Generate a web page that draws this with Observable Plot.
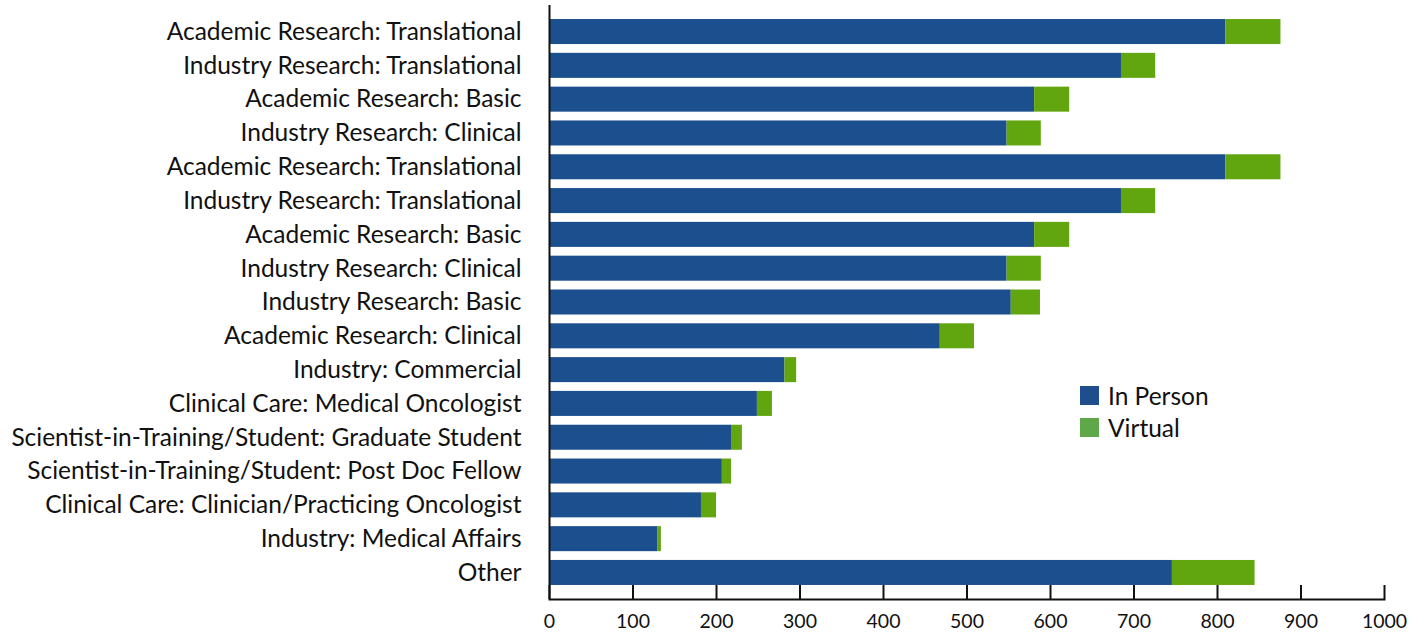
<!DOCTYPE html>
<html><head><meta charset="utf-8">
<script src="https://cdn.jsdelivr.net/npm/d3@7"></script>
<script src="https://cdn.jsdelivr.net/npm/@observablehq/plot@0.6"></script>
<style>
body{margin:0;background:#fff;}
#wrap{position:relative;width:1418px;height:632px;font-family:Lato,sans-serif;}
#wrap svg{display:block;}
#legend{position:absolute;left:1080px;top:379px;font-family:Lato,sans-serif;font-size:24.5px;color:#111;}
#legend .item{display:flex;align-items:center;height:32px;}
#legend .sw{width:19px;height:19px;margin-right:9px;}
</style></head><body>
<div id="wrap"><div id="legend"></div></div>
<script>
const categories = [
  "Academic Research: Translational",
  "Industry Research: Translational",
  "Academic Research: Basic",
  "Industry Research: Clinical",
  "Academic Research: Translational",
  "Industry Research: Translational",
  "Academic Research: Basic",
  "Industry Research: Clinical",
  "Industry Research: Basic",
  "Academic Research: Clinical",
  "Industry: Commercial",
  "Clinical Care: Medical Oncologist",
  "Scientist-in-Training/Student: Graduate Student",
  "Scientist-in-Training/Student: Post Doc Fellow",
  "Clinical Care: Clinician/Practicing Oncologist",
  "Industry: Medical Affairs",
  "Other"
];
const inPerson = [810, 685, 581, 548, 810, 685, 581, 548, 553, 468, 282, 249, 218, 207, 182, 130, 746];
const virtual  = [66, 41, 42, 41, 66, 41, 42, 41, 35, 41, 14, 18, 13, 11, 18, 4, 99];
const seriesNames = ["In Person", "Virtual"];
const seriesColors = ["#1c4f8d", "#62a60f"];
const legendColors = ["#1f4e8c", "#5fa84a"];
const xTicks = [0, 100, 200, 300, 400, 500, 600, 700, 800, 900, 1000];

const rows = [];
categories.forEach((c, i) => {
  rows.push({row: i, series: seriesNames[0], value: inPerson[i]});
  rows.push({row: i, series: seriesNames[1], value: virtual[i]});
});

const chart = Plot.plot({
  width: 1418,
  height: 632,
  marginTop: 5,
  marginBottom: 33,
  marginLeft: 549,
  marginRight: 34,
  style: {fontFamily: "Lato, sans-serif", background: "#fff", color: "#111"},
  x: {domain: [0, 1000], ticks: xTicks},
  y: {domain: d3.range(categories.length), paddingInner: 0.26, paddingOuter: 0.415, round: false},
  color: {domain: seriesNames, range: seriesColors},
  marks: [
    Plot.barX(rows, Plot.stackX({y: "row", x: "value", fill: "series", order: seriesNames})),
    Plot.axisY({tickSize: 0, tickPadding: 28, fontSize: 24.5, tickFormat: i => categories[i], label: null}),
    Plot.axisX({ticks: xTicks, tickSize: -14, tickPadding: 0, strokeWidth: 2, stroke: "#111", label: null, text: null}),
    Plot.axisX({ticks: xTicks, tickSize: 0, tickPadding: 15, fontSize: 19.5, tickFormat: "d", label: null}),
    Plot.ruleX([0], {stroke: "#111", strokeWidth: 2}),
    Plot.frame({anchor: "bottom", stroke: "#111", strokeWidth: 2})
  ]
});
document.getElementById("wrap").prepend(chart);

const legend = document.getElementById("legend");
seriesNames.forEach((s, i) => {
  const item = document.createElement("div");
  item.className = "item";
  item.innerHTML = `<span class="sw" style="background:${legendColors[i]}"></span><span>${s}</span>`;
  legend.appendChild(item);
});
</script>
</body></html>
